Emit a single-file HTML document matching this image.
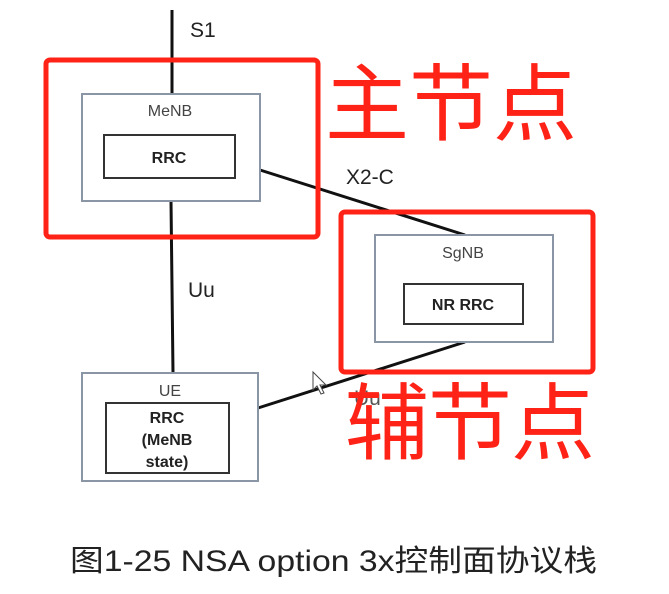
<!DOCTYPE html>
<html><head><meta charset="utf-8"><style>
body{margin:0;background:#fff;}
svg{display:block}
</style></head><body>
<svg width="669" height="594" viewBox="0 0 669 594" xmlns="http://www.w3.org/2000/svg">
<rect width="669" height="594" fill="#fff"/>
<g stroke="#111" stroke-width="3" fill="none">
<line x1="172" y1="10" x2="172" y2="94"/>
<line x1="171" y1="201" x2="173" y2="373"/>
<line x1="260" y1="170" x2="465" y2="235"/>
<line x1="258" y1="408" x2="465" y2="342"/>
</g>
<g fill="#fff" stroke="#8a96a6" stroke-width="2">
<rect x="82" y="94" width="178" height="107"/>
<rect x="375" y="235" width="178" height="107"/>
<rect x="82" y="373" width="176" height="108"/>
</g>
<g fill="#fff" stroke="#333" stroke-width="2">
<rect x="104" y="135" width="131" height="43"/>
<rect x="404" y="284" width="119" height="40"/>
<rect x="106" y="403" width="123" height="70"/>
</g>
<g font-family="Liberation Sans, sans-serif" text-anchor="middle" fill="#444">
<text x="170" y="116" font-size="16">MeNB</text>
<text x="463" y="258" font-size="16">SgNB</text>
<text x="170" y="396" font-size="16">UE</text>
</g>
<g font-family="Liberation Sans, sans-serif" text-anchor="middle" fill="#222" font-weight="bold" font-size="16">
<text x="169" y="163">RRC</text>
<text x="463" y="310">NR RRC</text>
<text x="167" y="423">RRC</text>
<text x="167" y="445">(MeNB</text>
<text x="167" y="467">state)</text>
</g>
<g font-family="Liberation Sans, sans-serif" fill="#222" font-size="21">
<text x="190" y="37">S1</text>
<text x="346" y="184">X2-C</text>
<text x="188" y="297">Uu</text>
<text x="354" y="405" fill="#555">Uu</text>
</g>
<path d="M313 372 l0 18 l4 -4 l4 8 l3 -1 l-4 -8 l6 0 z" fill="#fff" stroke="#444" stroke-width="1"/>
<g fill="none" stroke="#ff2216" stroke-width="5">
<rect x="46" y="60" width="272" height="177" rx="4"/>
<rect x="341" y="212" width="252" height="160" rx="4"/>
</g>
<g font-family="Noto Sans CJK SC, sans-serif" fill="#ff2216" font-size="84">
<text x="325" y="134" textLength="252">主节点</text>
<text x="345" y="453" textLength="250">辅节点</text>
</g>
<text x="70" y="571" font-family="Liberation Sans, Noto Sans CJK SC, sans-serif" font-size="30" fill="#222" textLength="527" lengthAdjust="spacingAndGlyphs">图1-25 NSA option 3x控制面协议栈</text>
</svg>
</body></html>
